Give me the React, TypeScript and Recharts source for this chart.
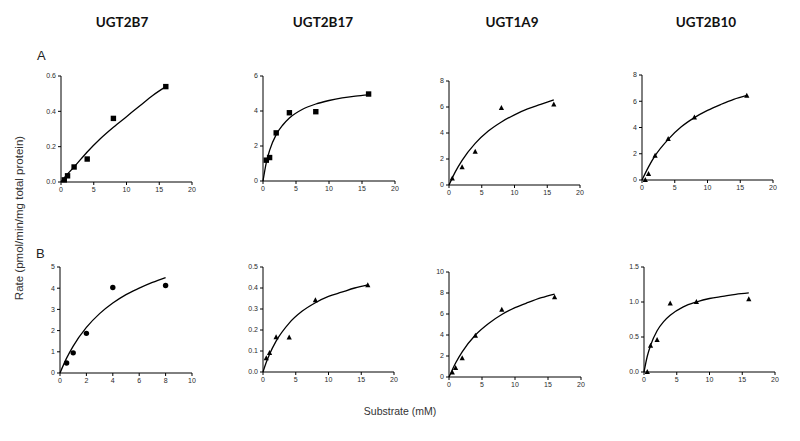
import { ComposedChart, Line, Scatter, XAxis, YAxis } from 'recharts';

// titles of the four enzyme columns
const enzymes = ['UGT2B7', 'UGT2B17', 'UGT1A9', 'UGT2B10'];

// row A measured points
const a1X = [0.5, 1, 2, 4, 8, 16];
const a1Y = [0.012, 0.035, 0.085, 0.13, 0.36, 0.54];
const a2X = [0.5, 1, 2, 4, 8, 16];
const a2Y = [1.19, 1.34, 2.75, 3.9, 3.96, 4.97];
const a3X = [0.5, 2, 4, 8, 16];
const a3Y = [0.5, 1.36, 2.56, 5.93, 6.19];
const a4X = [0.5, 1, 2, 4, 8, 16];
const a4Y = [0.0, 0.46, 1.85, 3.12, 4.77, 6.42];

// row B measured points
const b1X = [0.5, 1, 2, 4, 8];
const b1Y = [0.47, 0.95, 1.87, 4.03, 4.13];
const b2X = [0.5, 1, 2, 4, 8, 16];
const b2Y = [0.066, 0.09, 0.166, 0.164, 0.342, 0.413];
const b3X = [0.5, 1, 2, 4, 8, 16];
const b3Y = [0.44, 0.86, 1.78, 3.94, 6.41, 7.59];
const b4X = [0.5, 1, 2, 4, 8, 16];
const b4Y = [0.0, 0.375, 0.456, 0.98, 1.0, 1.04];

// fitted curves
const a1CurveX = [0, 1, 2, 4, 6, 8, 10, 12, 14, 16];
const a1CurveY = [0, 0.045, 0.085, 0.17, 0.245, 0.31, 0.37, 0.43, 0.49, 0.54];
const a2CurveX = [0, 0.5, 1, 2, 3, 4, 6, 8, 10, 12, 14, 16];
const a2CurveY = [0, 1.05, 1.75, 2.65, 3.2, 3.6, 4.1, 4.4, 4.6, 4.75, 4.85, 4.92];
const a3CurveX = [0, 1, 2, 4, 6, 8, 10, 12, 14, 16];
const a3CurveY = [0, 1.05, 1.9, 3.2, 4.15, 4.85, 5.4, 5.85, 6.2, 6.55];
const a4CurveX = [0, 1, 2, 4, 6, 8, 10, 12, 14, 16];
const a4CurveY = [0, 1.0, 1.85, 3.1, 4.05, 4.75, 5.3, 5.75, 6.15, 6.45];
const b1CurveX = [0, 0.5, 1, 2, 3, 4, 5, 6, 7, 8];
const b1CurveY = [0, 0.7, 1.27, 2.15, 2.8, 3.3, 3.7, 4.0, 4.27, 4.5];
const b2CurveX = [0, 0.5, 1, 2, 4, 6, 8, 10, 12, 14, 16];
const b2CurveY = [0, 0.046, 0.085, 0.147, 0.233, 0.29, 0.33, 0.36, 0.38, 0.4, 0.415];
const b3CurveX = [0, 1, 2, 4, 6, 8, 10, 12, 14, 16];
const b3CurveY = [0, 1.34, 2.4, 4.0, 5.1, 5.95, 6.6, 7.1, 7.55, 7.9];
const b4CurveX = [0, 0.5, 1, 2, 3, 4, 6, 8, 10, 12, 14, 16];
const b4CurveY = [0, 0.225, 0.38, 0.59, 0.72, 0.81, 0.93, 1.0, 1.05, 1.08, 1.11, 1.13];

// axis ticks
const ticks20 = [0, 5, 10, 15, 20];
const ticks10 = [0, 2, 4, 6, 8, 10];
const a1Ticks = [0, 0.2, 0.4, 0.6];
const a2Ticks = [0, 2, 4, 6];
const a3Ticks = [0, 2, 4, 6, 8];
const b1Ticks = [0, 1, 2, 3, 4, 5];
const b2Ticks = [0, 0.1, 0.2, 0.3, 0.4, 0.5];
const b3Ticks = [0, 2, 4, 6, 8, 10];
const b4Ticks = [0, 0.5, 1.0, 1.5];

const zip = (xs: number[], ys: number[]) => xs.map((x, i) => ({ x, y: ys[i] }));

type Marker = 'square' | 'triangle' | 'circle';

const markerShape = (kind: Marker) => (props: any) => {
    const { cx, cy } = props;
    if (cx == null || cy == null) return <g />;
    if (kind === 'square') return <rect x={cx - 2.7} y={cy - 2.7} width={5.4} height={5.4} fill="#000" />;
    if (kind === 'circle') return <circle cx={cx} cy={cy} r={2.7} fill="#000" />;
    return <path d={`M${cx},${cy - 3}L${cx + 2.6},${cy + 2}L${cx - 2.6},${cy + 2}Z`} fill="#000" />;
};

const Y_W = 30;
const TOP = 8;
const X_H = 20;
const RIGHT = 10;

type PanelProps = {
    left: number;
    top: number;
    w: number;
    h: number;
    xMax: number;
    xTicks: number[];
    yMax: number;
    yTicks: number[];
    decimals: boolean;
    points: { x: number; y: number }[];
    curve: { x: number; y: number }[];
    marker: Marker;
};

const tickStyle = { fontSize: 7, fill: '#2a2a2a', fontFamily: 'Liberation Sans, Arial, sans-serif' };

const Panel = (p: PanelProps) => (
    <div style={{ position: 'absolute', left: p.left - Y_W, top: p.top - TOP }}>
        <ComposedChart
            width={p.w + Y_W + RIGHT}
            height={p.h + TOP + X_H}
            margin={{ top: TOP, right: RIGHT, left: 0, bottom: 0 }}
        >
            <XAxis
                dataKey="x"
                type="number"
                domain={[0, p.xMax]}
                ticks={p.xTicks}
                height={X_H}
                tickSize={3}
                stroke="#000"
                tick={tickStyle}
                interval={0}
                allowDuplicatedCategory={false}
            />
            <YAxis
                dataKey="y"
                type="number"
                domain={[0, p.yMax]}
                ticks={p.yTicks}
                width={Y_W}
                tickSize={3}
                stroke="#000"
                tick={tickStyle}
                interval={0}
                tickFormatter={(v: number) => (p.decimals ? v.toFixed(1) : String(v))}
            />
            <Line
                data={p.curve}
                dataKey="y"
                type="monotone"
                stroke="#000"
                strokeWidth={1.3}
                dot={false}
                activeDot={false}
                isAnimationActive={false}
            />
            <Scatter data={p.points} dataKey="y" shape={markerShape(p.marker)} isAnimationActive={false} />
        </ComposedChart>
    </div>
);

const titleX = [122, 323, 512, 706];

export default function App() {
    return (
        <div
            style={{
                position: 'absolute',
                left: 0,
                top: 0,
                width: 800,
                height: 441,
                background: '#fff',
                fontFamily: 'Liberation Sans, Arial, sans-serif',
            }}
        >
            {enzymes.map((name, i) => (
                <div
                    key={name}
                    style={{
                        position: 'absolute',
                        left: titleX[i] - 60,
                        width: 120,
                        top: 14,
                        textAlign: 'center',
                        fontFamily: 'Lato, sans-serif',
                        fontWeight: 700,
                        fontSize: 13.5,
                        color: '#111',
                    }}
                >
                    {name}
                </div>
            ))}
            <div style={{ position: 'absolute', left: 37, top: 48, fontSize: 13, color: '#222' }}>A</div>
            <div style={{ position: 'absolute', left: 36, top: 246, fontSize: 13, color: '#222' }}>B</div>
            <div
                style={{
                    position: 'absolute',
                    left: 19 - 110,
                    top: 220 - 8,
                    width: 220,
                    textAlign: 'center',
                    fontSize: 11.5,
                    color: '#333',
                    transform: 'rotate(-90deg)',
                }}
            >
                Rate (pmol/min/mg total protein)
            </div>
            <div
                style={{
                    position: 'absolute',
                    left: 300,
                    width: 200,
                    top: 405,
                    textAlign: 'center',
                    fontSize: 10.5,
                    color: '#333',
                }}
            >
                Substrate (mM)
            </div>

            <Panel left={61} top={76} w={131} h={106} xMax={20} xTicks={ticks20} yMax={0.6} yTicks={a1Ticks} decimals
                points={zip(a1X, a1Y)} curve={zip(a1CurveX, a1CurveY)} marker="square" />
            <Panel left={263} top={76} w={132} h={105} xMax={20} xTicks={ticks20} yMax={6} yTicks={a2Ticks} decimals={false}
                points={zip(a2X, a2Y)} curve={zip(a2CurveX, a2CurveY)} marker="square" />
            <Panel left={449} top={81} w={131} h={104} xMax={20} xTicks={ticks20} yMax={8} yTicks={a3Ticks} decimals={false}
                points={zip(a3X, a3Y)} curve={zip(a3CurveX, a3CurveY)} marker="triangle" />
            <Panel left={642} top={75} w={131} h={105} xMax={20} xTicks={ticks20} yMax={8} yTicks={a3Ticks} decimals={false}
                points={zip(a4X, a4Y)} curve={zip(a4CurveX, a4CurveY)} marker="triangle" />

            <Panel left={60} top={267} w={132} h={106} xMax={10} xTicks={ticks10} yMax={5} yTicks={b1Ticks} decimals={false}
                points={zip(b1X, b1Y)} curve={zip(b1CurveX, b1CurveY)} marker="circle" />
            <Panel left={263} top={267} w={131} h={105} xMax={20} xTicks={ticks20} yMax={0.5} yTicks={b2Ticks} decimals
                points={zip(b2X, b2Y)} curve={zip(b2CurveX, b2CurveY)} marker="triangle" />
            <Panel left={449} top={272} w={132} h={105} xMax={20} xTicks={ticks20} yMax={10} yTicks={b3Ticks} decimals={false}
                points={zip(b3X, b3Y)} curve={zip(b3CurveX, b3CurveY)} marker="triangle" />
            <Panel left={644} top={267} w={131} h={105} xMax={20} xTicks={ticks20} yMax={1.5} yTicks={b4Ticks} decimals
                points={zip(b4X, b4Y)} curve={zip(b4CurveX, b4CurveY)} marker="triangle" />
        </div>
    );
}
